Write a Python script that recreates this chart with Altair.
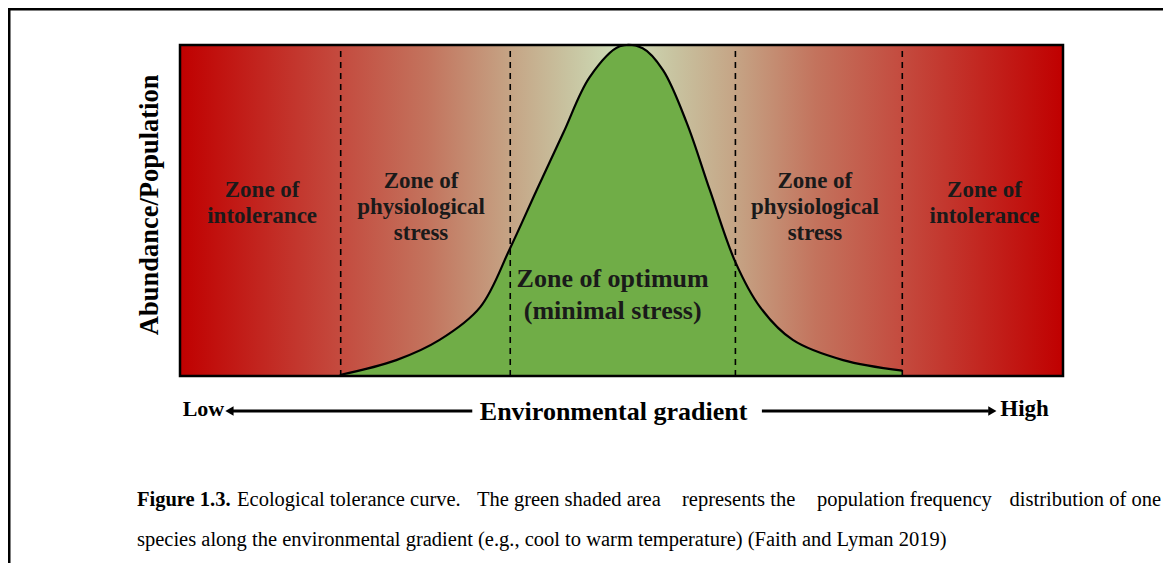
import altair as alt
import pandas as pd

# ---- data (x: environmental gradient 0-100, y: abundance 0-100) ----
zone_bounds = [18.2, 37.4, 62.9, 81.8]
curve_x = [18.1, 24.5, 29.4, 34.0, 37.4, 40.4, 43.4, 46.4, 49.8, 52.4, 54.7, 57.4, 60.0, 62.9, 65.7, 69.4, 75.1, 81.8]
curve_y = [0.3, 4.8, 10.9, 20.8, 38.7, 56.2, 73.4, 90.3, 99.6, 99.0, 92.4, 76.4, 56.2, 34.4, 20.8, 10.9, 4.8, 1.6]

zone_labels = ["Zone of\nintolerance", "Zone of\nphysiological\nstress", "Zone of\nphysiological\nstress", "Zone of\nintolerance"]
zone_label_x = [9.3, 27.3, 71.9, 91.1]
zone_label_y = [56.2, 58.8, 58.8, 56.2]

optimum_label = "Zone of optimum\n(minimal stress)"
optimum_x = [49.0]
optimum_y = [29.3]

y_title = "Abundance/Population"
x_title = "Environmental gradient"
low_label = "Low"
high_label = "High"

caption_bold = "Figure 1.3."
caption_1 = ["Ecological tolerance curve.", "The green shaded area", "represents the",
             "population frequency", "distribution of one"]
caption_1_x = [6.46, 33.63, 56.85, 72.14, 111.1]
caption_1_align = ["left", "left", "left", "left", "right"]
caption_2 = "species along the environmental gradient (e.g., cool to warm temperature) (Faith and Lyman 2019)"

FONT = "Liberation Serif"

xs = alt.Scale(domain=[0, 100], nice=False, zero=False)
ys = alt.Scale(domain=[0, 100], nice=False, zero=False)

def X(f="x:Q"):
    return alt.X(f, scale=xs, axis=None)

def Y(f="y:Q"):
    return alt.Y(f, scale=ys, axis=None)

frame_df = pd.DataFrame({"x": [0], "x2": [100], "y": [0], "y2": [100]})

background = alt.Chart(frame_df).mark_rect(
    color=alt.LinearGradient(
        gradient="linear", x1=0, x2=1, y1=0, y2=0,
        stops=[
            alt.GradientStop(offset=0.0, color="#C00000"),
            alt.GradientStop(offset=0.18, color="#C44A3E"),
            alt.GradientStop(offset=0.28, color="#C3735D"),
            alt.GradientStop(offset=0.374, color="#C5A485"),
            alt.GradientStop(offset=0.44, color="#C8C3A0"),
            alt.GradientStop(offset=0.50, color="#CEDFB9"),
            alt.GradientStop(offset=0.56, color="#C8C3A0"),
            alt.GradientStop(offset=0.629, color="#C5A485"),
            alt.GradientStop(offset=0.72, color="#C3735D"),
            alt.GradientStop(offset=0.82, color="#C44A3E"),
            alt.GradientStop(offset=1.0, color="#C00000"),
        ],
    )
).encode(x=X(), x2="x2:Q", y=Y(), y2="y2:Q")

curve_df = pd.DataFrame({"x": curve_x, "y": curve_y})
area = alt.Chart(curve_df).mark_area(color="#70AD47", interpolate="catmull-rom", opacity=1).encode(x=X(), y=Y())
line = alt.Chart(curve_df).mark_line(color="black", strokeWidth=2.2, interpolate="catmull-rom").encode(x=X(), y=Y())

zones_df = pd.DataFrame({"x": zone_bounds, "y": [0] * 4, "y2": [100] * 4})
dashes = alt.Chart(zones_df).mark_rule(color="black", strokeWidth=1.6, strokeDash=[6, 5]).encode(
    x=X(), y=Y(), y2="y2:Q"
)

border = alt.Chart(frame_df).mark_rect(fill=None, stroke="black", strokeWidth=2.5).encode(
    x=X(), x2="x2:Q", y=Y(), y2="y2:Q"
)

zl_df = pd.DataFrame({"t": zone_labels, "x": zone_label_x, "y": zone_label_y})
zone_text = alt.Chart(zl_df).mark_text(
    font=FONT, fontSize=23, fontWeight="bold", color="#1a1a1a", lineBreak="\n", lineHeight=26,
    align="center", baseline="middle"
).encode(x=X(), y=Y(), text="t:N")

opt_df = pd.DataFrame({"t": [optimum_label], "x": optimum_x, "y": optimum_y})
opt_text = alt.Chart(opt_df).mark_text(
    font=FONT, fontSize=26, fontWeight="bold", color="#1a1a1a", lineBreak="\n", lineHeight=32,
    align="center", baseline="middle"
).encode(x=X(), y=Y(), text="t:N")

# y-axis title (rotated)
yt_df = pd.DataFrame({"t": [y_title], "x": [-3.4], "y": [51.7]})
y_text = alt.Chart(yt_df).mark_text(
    font=FONT, fontSize=26.5, fontWeight="bold", color="black", angle=270, align="center", baseline="middle"
).encode(x=X(), y=Y(), text="t:N")

# gradient axis: labels, arrows
low_df = pd.DataFrame({"t": [low_label], "x": [0.3], "y": [-10.1]})
mid_df = pd.DataFrame({"t": [x_title], "x": [49.1], "y": [-10.9]})
high_df = pd.DataFrame({"t": [high_label], "x": [92.9], "y": [-10.1]})
low_text = alt.Chart(low_df).mark_text(
    font=FONT, fontSize=22, fontWeight="bold", color="black", align="left", baseline="middle"
).encode(x=X(), y=Y(), text="t:N")
mid_text = alt.Chart(mid_df).mark_text(
    font=FONT, fontSize=26, fontWeight="bold", color="black", align="center", baseline="middle"
).encode(x=X(), y=Y(), text="t:N")
high_text = alt.Chart(high_df).mark_text(
    font=FONT, fontSize=23, fontWeight="bold", color="black", align="left", baseline="middle"
).encode(x=X(), y=Y(), text="t:N")

arrow_df = pd.DataFrame({"x": [6.0, 65.9], "x2": [33.1, 91.6], "y": [-10.6, -10.6]})
arrow_lines = alt.Chart(arrow_df).mark_rule(color="black", strokeWidth=3).encode(
    x=X(), x2="x2:Q", y=Y()
)
head_df = pd.DataFrame({"x": [5.6, 92.0], "y": [-10.6, -10.6], "shape": ["triangle-left", "triangle-right"]})
heads = alt.Chart(head_df).mark_point(filled=True, color="black", opacity=1, size=90).encode(
    x=X(), y=Y(), shape=alt.Shape("shape:N", scale=None, legend=None),
)

# caption
capb_df = pd.DataFrame({"t": [caption_bold], "x": [-4.87], "y": [-37.5]})
cap_bold = alt.Chart(capb_df).mark_text(
    font=FONT, fontSize=20.5, fontWeight="bold", color="black", align="left", baseline="middle"
).encode(x=X(), y=Y(), text="t:N")

cap_rows = pd.DataFrame({
    "t": caption_1 + [caption_2],
    "x": caption_1_x + [-4.87],
    "y": [-37.5] * len(caption_1) + [-49.6],
    "a": caption_1_align + ["left"],
})
cap_left = alt.Chart(cap_rows[cap_rows["a"] == "left"]).mark_text(
    font=FONT, fontSize=20.5, color="black", align="left", baseline="middle"
).encode(x=X(), y=Y(), text="t:N")
cap_right = alt.Chart(cap_rows[cap_rows["a"] == "right"]).mark_text(
    font=FONT, fontSize=20.5, color="black", align="right", baseline="middle"
).encode(x=X(), y=Y(), text="t:N")

# outer frame (decorative)
frame_top = alt.Chart(frame_df).mark_rule(color="black", strokeWidth=4).encode(
    x=alt.value(-173), x2=alt.value(990), y=alt.value(-36.5)
)
frame_left = alt.Chart(frame_df).mark_rule(color="black", strokeWidth=4).encode(
    x=alt.value(-171.5), y=alt.value(-38), y2=alt.value(530)
)

chart = alt.layer(
    background, area, line, dashes, border, zone_text, opt_text, y_text,
    arrow_lines, heads, low_text, mid_text, high_text,
    cap_bold, cap_left, cap_right, frame_top, frame_left,
).properties(
    width=883, height=331,
    autosize=alt.AutoSizeParams(type="none"),
    padding={"left": 172, "top": 37, "right": 100, "bottom": 187},
    background="white",
).configure_view(stroke=None)

chart.save("out.html", embed_options={"renderer": "svg", "actions": False})
